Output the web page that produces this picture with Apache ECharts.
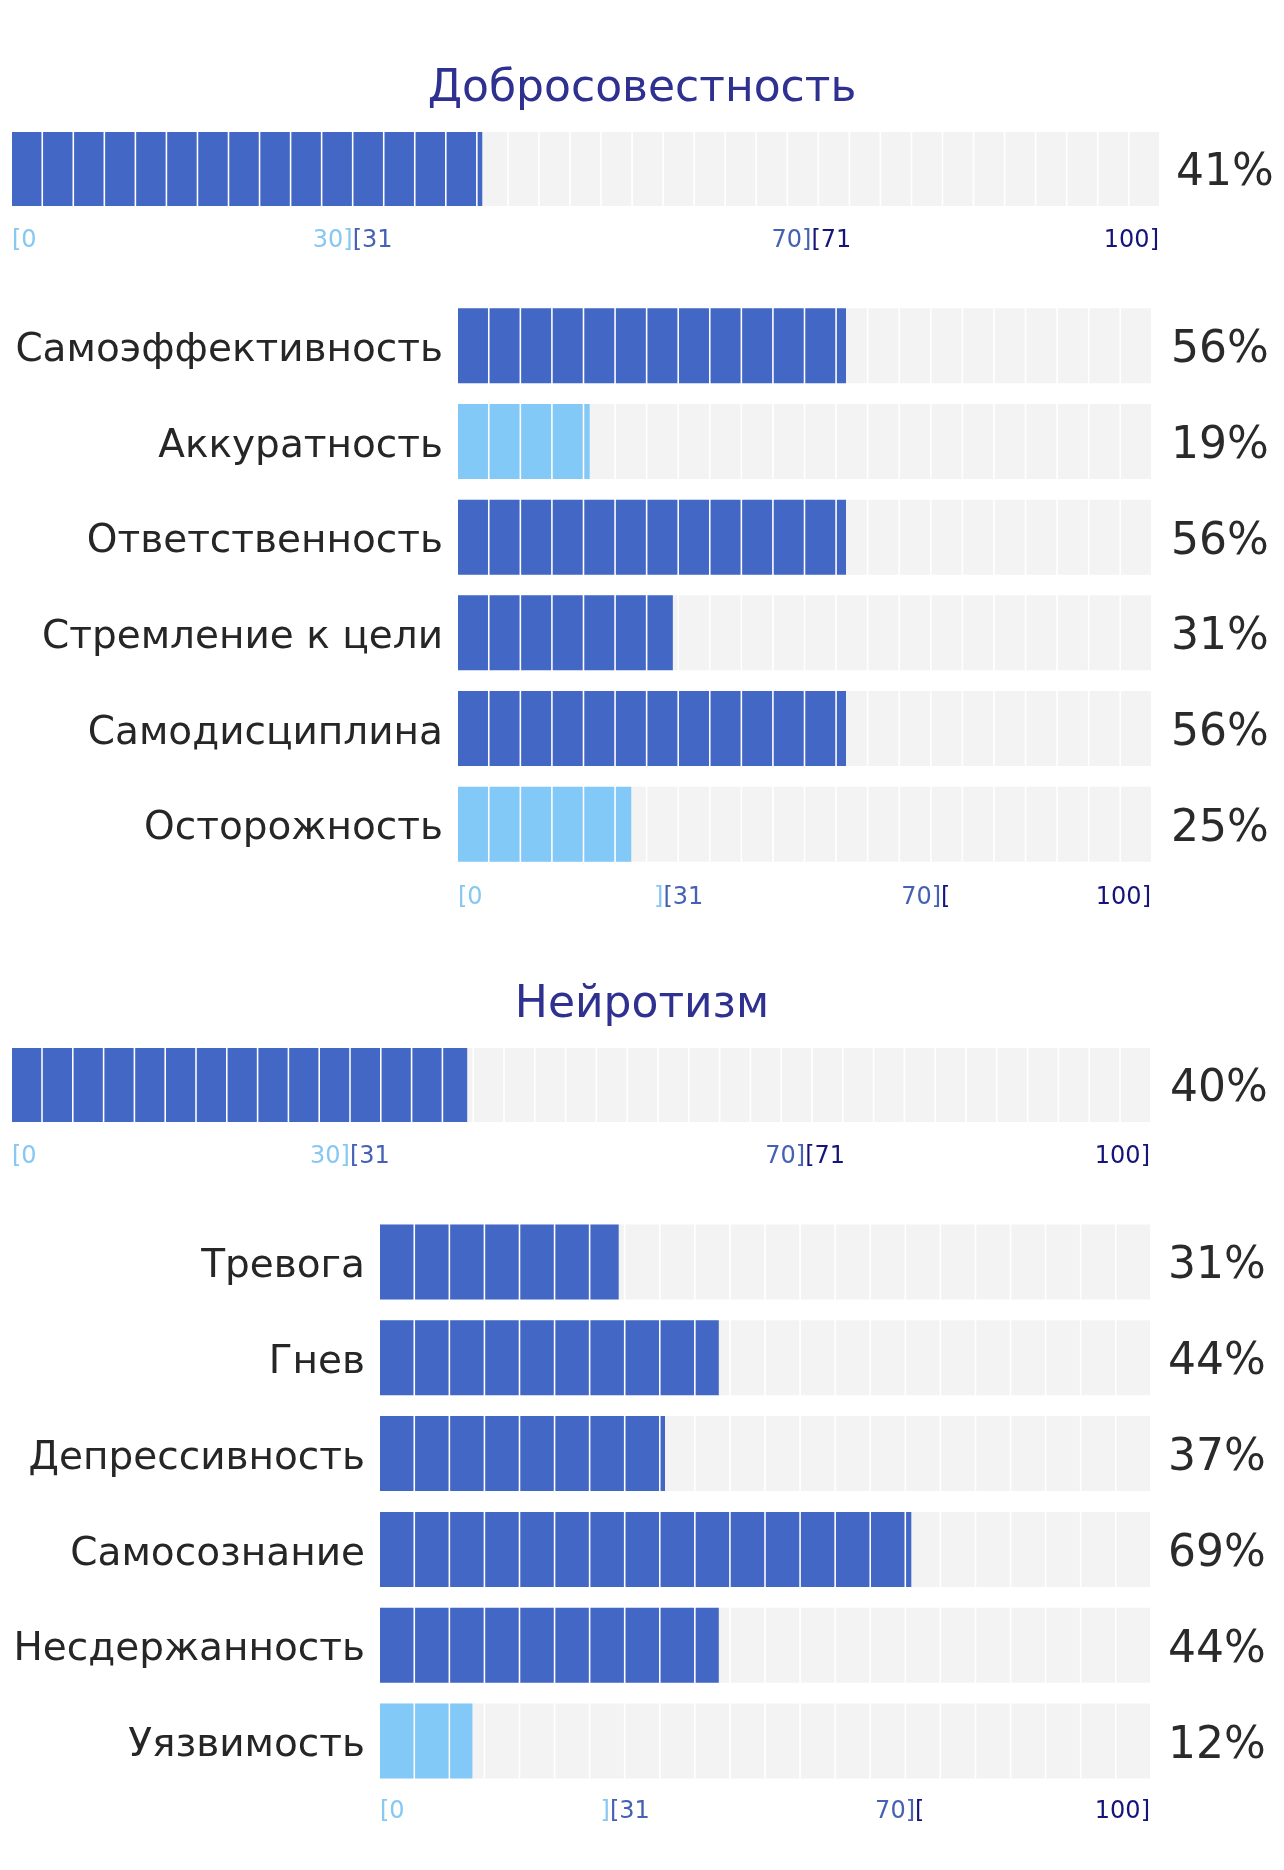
<!DOCTYPE html>
<html><head><meta charset="utf-8">
<script src="https://cdn.jsdelivr.net/npm/echarts@6/dist/echarts.min.js"></script>
<style>html,body{margin:0;padding:0;background:#fff}#c{width:1284px;height:1870px}</style>
</head><body><div id="c"></div>
<script>
// ---------- data ----------
const consTitle = 'Добросовестность';
const consTotal = 41;
const consCats = ['Самоэффективность', 'Аккуратность', 'Ответственность', 'Стремление к цели', 'Самодисциплина', 'Осторожность'];
const consVals = [56, 19, 56, 31, 56, 25];

const neuroTitle = 'Нейротизм';
const neuroTotal = 40;
const neuroCats = ['Тревога', 'Гнев', 'Депрессивность', 'Самосознание', 'Несдержанность', 'Уязвимость'];
const neuroVals = [31, 44, 37, 69, 44, 12];

const tickValsMain = [0, 29.7, 69.7, 100];
const tickLabelsMain = ['{a|[0}', '{a|30]}{b|[31}', '{b|70]}{c|[71}', '{c|100]}'];
const tickValsSub = [0, 31.85, 67.5, 100];
const tickLabelsSub = ['{a|[0}', '{a|]}{b|[31}', '{b|70]}{c|[}', '{c|100]}'];

// ---------- style ----------
const W = 1284;
const FONT = '"DejaVu Sans", sans-serif';
const DARK = '#4267c5';
const LIGHT = '#83c9f7';
const BG = '#f3f3f3';
const GAP = 1.6;

const grids = [
  { left: 12, right: 125, top: 132, height: 74 },
  { left: 458, right: 133, top: 298, height: 574 },
  { left: 12, right: 134, top: 1048, height: 74 },
  { left: 380, right: 134, top: 1214, height: 575 }
];
const cellCounts = [37, 22, 37, 22];
const barH = [74, 75, 74, 75];
const axisMargins = [23, 14, 23, 11];
const pctMargins = [17, 20, 20, 18];

function colorFor(v) { return v < 31 ? LIGHT : DARK; }

const rich = {
  a: { color: '#86c8f2', fontSize: 24, fontFamily: FONT },
  b: { color: '#4461b3', fontSize: 24, fontFamily: FONT },
  c: { color: '#14147a', fontSize: 24, fontFamily: FONT }
};

function xAxisFor(i, vals, labels) {
  return {
    type: 'value', gridIndex: i, min: 0, max: 100,
    axisLine: { show: false }, axisTick: { show: false }, splitLine: { show: false },
    axisLabel: {
      show: true, margin: axisMargins[i],
      customValues: vals,
      alignMinLabel: 'left', alignMaxLabel: 'right',
      formatter: function (v) {
        const k = vals.findIndex(t => Math.abs(t - v) < 1e-6);
        return k >= 0 ? labels[k] : '';
      },
      rich: rich
    }
  };
}

const blocks = [
  { cats: [consTitle], vals: [consTotal], showCat: false },
  { cats: consCats, vals: consVals, showCat: true },
  { cats: [neuroTitle], vals: [neuroTotal], showCat: false },
  { cats: neuroCats, vals: neuroVals, showCat: true }
];

const xAxes = [
  xAxisFor(0, tickValsMain, tickLabelsMain),
  xAxisFor(1, tickValsSub, tickLabelsSub),
  xAxisFor(2, tickValsMain, tickLabelsMain),
  xAxisFor(3, tickValsSub, tickLabelsSub)
];

const yAxes = [];
const series = [];
blocks.forEach((b, i) => {
  yAxes.push({
    type: 'category', gridIndex: i, data: b.cats, inverse: true, position: 'left',
    axisLine: { show: false }, axisTick: { show: false }, splitLine: { show: false },
    axisLabel: { show: b.showCat, margin: 15, fontSize: 39, fontFamily: FONT, color: '#262626',
      formatter: function (v) { return '{t|' + v + '}'; },
      rich: { t: { fontSize: 39, fontFamily: FONT, color: '#262626', padding: [10, 0, 0, 0] } } }
  });
  yAxes.push({
    type: 'category', gridIndex: i, data: b.cats, inverse: true, position: 'right',
    axisLine: { show: false }, axisTick: { show: false }, splitLine: { show: false },
    axisLabel: {
      show: true, margin: pctMargins[i], align: 'left',
      formatter: function (v, idx) { return '{p|' + b.vals[idx] + '%}'; },
      rich: { p: { fontSize: 44, fontFamily: FONT, color: '#2a2a2a', padding: [10, 0, 0, 0] } }
    }
  });
  const g = grids[i];
  const len = W - g.left - g.right;
  const n = cellCounts[i];
  const cw = (len - (n - 1) * GAP) / n;
  series.push({
    type: 'pictorialBar', xAxisIndex: i, yAxisIndex: i * 2, z: 1,
    symbol: 'rect', symbolRepeat: n, symbolSize: [cw, barH[i]], symbolBoundingData: 100,
    symbolMargin: 0, silent: true, animation: false,
    itemStyle: { color: BG },
    data: b.vals.map(() => 100)
  });
  series.push({
    type: 'pictorialBar', xAxisIndex: i, yAxisIndex: i * 2, z: 2,
    symbol: 'rect', symbolRepeat: n, symbolSize: [cw, barH[i]], symbolBoundingData: 100,
    symbolClip: true, symbolMargin: 0, silent: true, animation: false,
    data: b.vals.map(v => ({ value: v, itemStyle: { color: colorFor(v) } }))
  });
});

const chart = echarts.init(document.getElementById('c'), null, { renderer: 'canvas' });
chart.setOption({
  animation: false,
  backgroundColor: '#ffffff',
  title: [
    { text: consTitle, left: 'center', top: 68, padding: 0,
      textStyle: { fontSize: 44, fontWeight: 'normal', fontFamily: FONT, color: '#2f3190' } },
    { text: neuroTitle, left: 'center', top: 984, padding: 0,
      textStyle: { fontSize: 44, fontWeight: 'normal', fontFamily: FONT, color: '#2f3190' } }
  ],
  grid: grids,
  xAxis: xAxes,
  yAxis: yAxes,
  series: series
});
</script></body></html>
